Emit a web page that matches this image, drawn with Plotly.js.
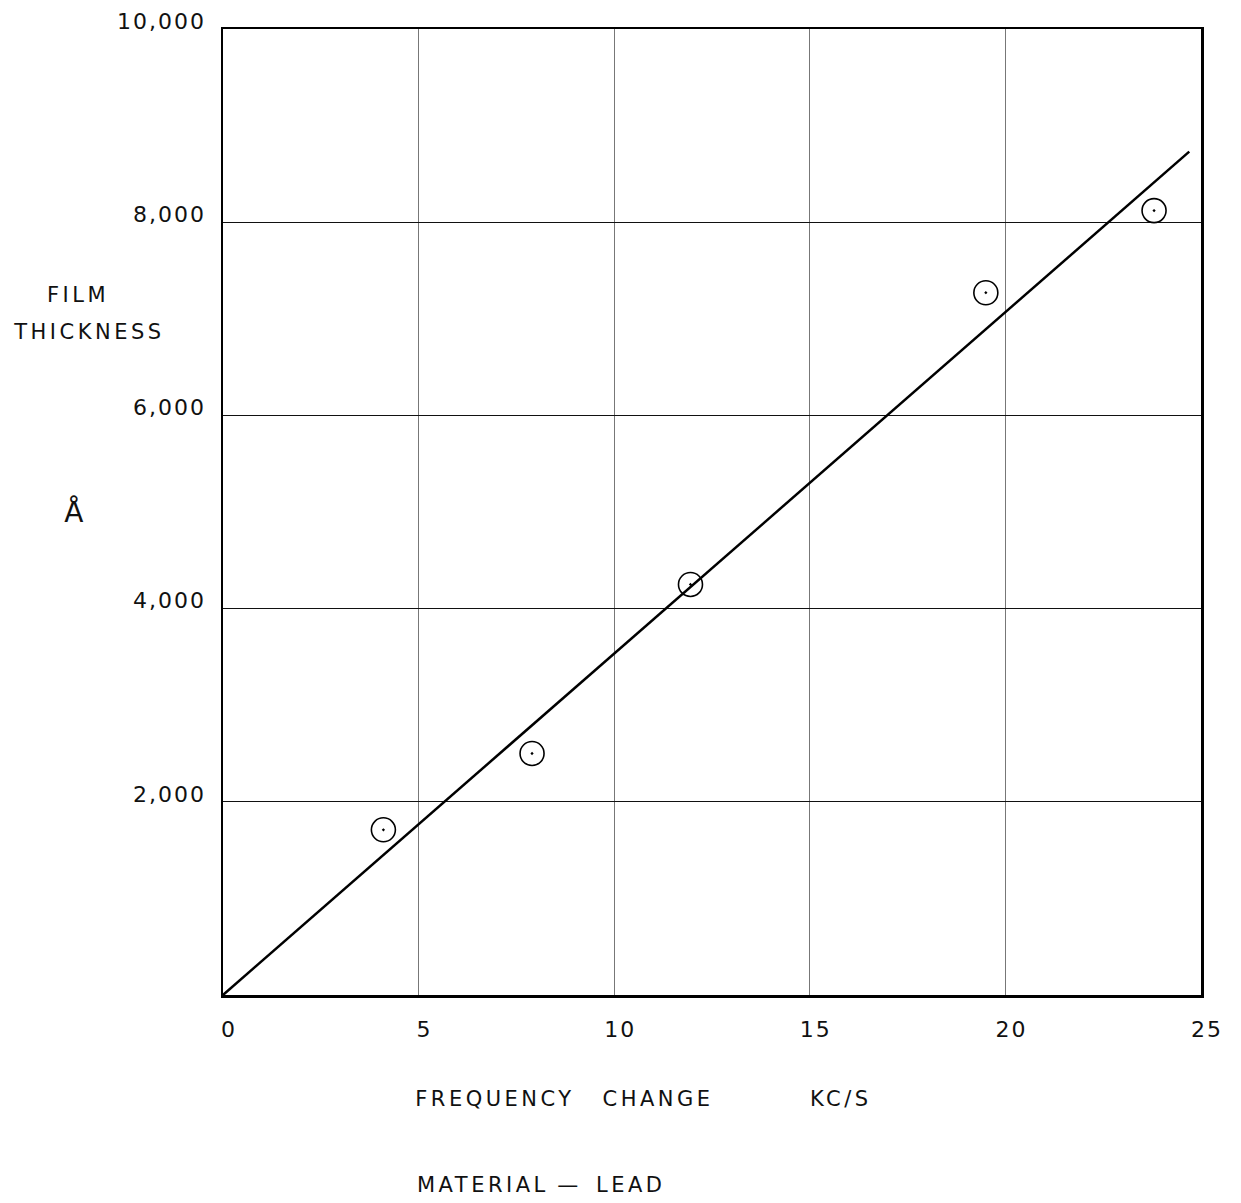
<!DOCTYPE html>
<html>
<head>
<meta charset="utf-8">
<script src="https://cdn.plot.ly/plotly-3.0.1.min.js"></script>
<style>
html,body{margin:0;padding:0;background:#fff;}
#chart{width:1241px;height:1203px;}
#chart .annotation-text{letter-spacing:3.5px;}
#chart .xtick text,#chart .ytick text{letter-spacing:2px;}
</style>
</head>
<body>
<div id="chart"></div>
<script>
// Measured points (frequency change kc/s, film thickness Å)
const freqChange = [4.1, 7.9, 11.95, 19.5, 23.8];
const filmThickness = [1710, 2500, 4250, 7270, 8120];
// Fitted straight line endpoints
const fitX = [0, 24.7];
const fitY = [0, 8730];
// Tick labels
const xTickVals = [0, 5, 10, 15, 20, 25];
const xTickText = ['0', '5', '10', '15', '20', '25'];
const yTickVals = [2000, 4000, 6000, 8000, 10000];
const yTickText = ['2,000', '4,000', '6,000', '8,000', '10,000'];

const FONT = 'DejaVu Sans, Liberation Sans, sans-serif';
const INK = '#111';

const traces = [
  {
    x: fitX, y: fitY, mode: 'lines', type: 'scatter',
    line: {color: '#000', width: 2.5}, hoverinfo: 'skip', showlegend: false
  },
  {
    x: freqChange, y: filmThickness, mode: 'markers', type: 'scatter',
    marker: {symbol: 'circle-open-dot', size: 24, color: '#000', line: {color: '#000', width: 1.6}},
    showlegend: false
  }
];

function note(text, x, y, size) {
  return {text: text, xref: 'paper', yref: 'paper', x: x, y: y, showarrow: false,
    xanchor: 'center', yanchor: 'middle', borderpad: 0,
    font: {family: FONT, size: size, color: INK}};
}

const layout = {
  width: 1241, height: 1203,
  margin: {l: 223, r: 40, t: 29, b: 208},
  paper_bgcolor: '#fff', plot_bgcolor: '#fff',
  font: {family: FONT, color: INK, size: 18},
  xaxis: {
    range: [0, 25], tickvals: xTickVals, ticktext: xTickText,
    showgrid: true, gridcolor: '#777', gridwidth: 1,
    zeroline: false, showline: true, linecolor: '#000', linewidth: 2.5, mirror: true,
    ticks: '', ticklabelstandoff: 13, ticklabelshift: 6, tickfont: {family: FONT, size: 22, color: INK}
  },
  yaxis: {
    range: [0, 10000], tickvals: yTickVals, ticktext: yTickText,
    showgrid: true, gridcolor: '#111', gridwidth: 1.2,
    zeroline: false, showline: true, linecolor: '#000', linewidth: 2.5, mirror: true,
    ticks: '', ticklabelstandoff: 10, ticklabelshift: -8, tickfont: {family: FONT, size: 22, color: INK}
  },
  annotations: [
    note('FILM', -0.1483, 0.7246, 21),
    note('THICKNESS', -0.1370, 0.6863, 21),
    note('Å', -0.1513, 0.500, 28),
    note('FREQUENCY', 0.2781, -0.1077, 21),
    note('CHANGE', 0.4448, -0.1077, 21),
    note('KC/S', 0.6319, -0.1077, 21),
    note('MATERIAL', 0.2658, -0.1967, 21),
    note('—', 0.3538, -0.1967, 21),
    note('LEAD', 0.4172, -0.1967, 21)
  ]
};

Plotly.newPlot('chart', traces, layout, {displayModeBar: false, staticPlot: true});
</script>
</body>
</html>
